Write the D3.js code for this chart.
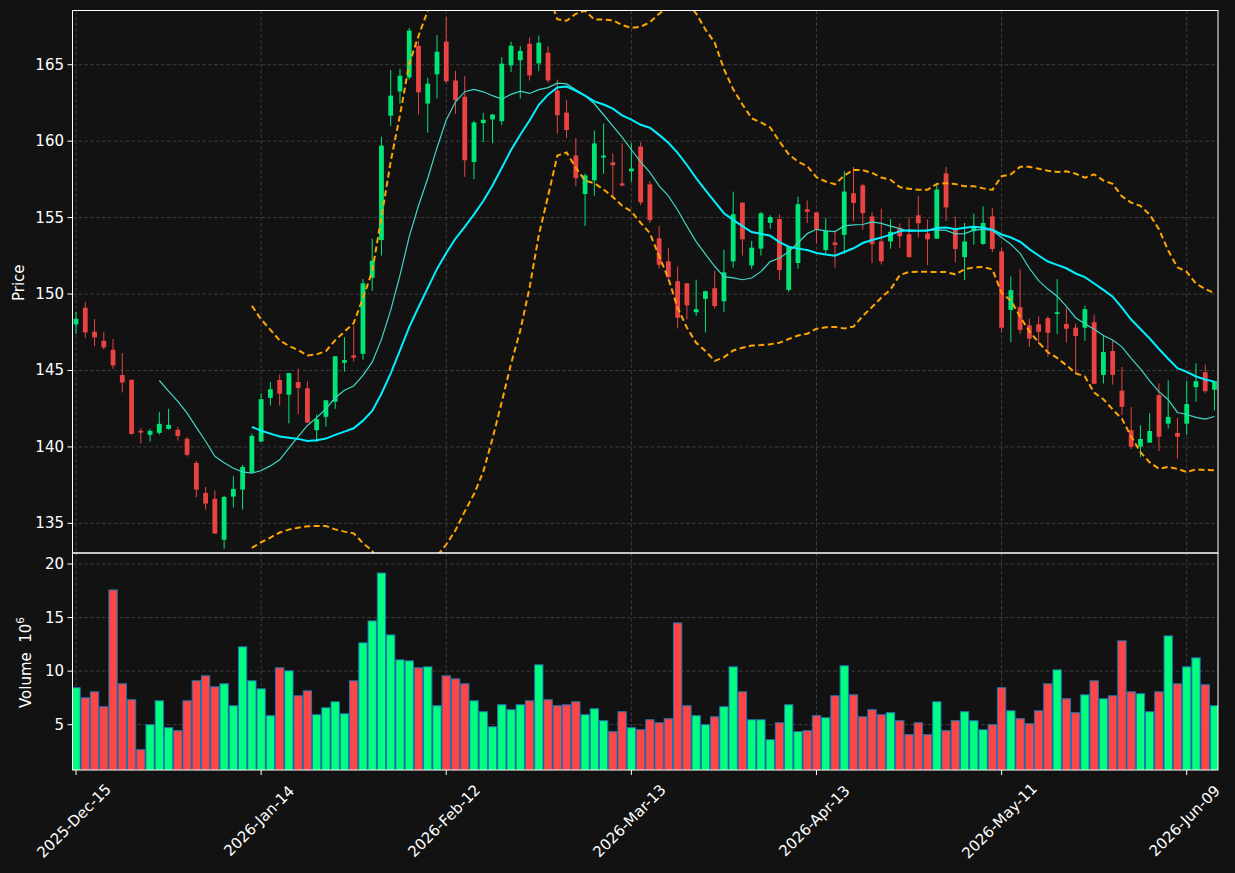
<!DOCTYPE html>
<html><head><meta charset="utf-8">
<script src="https://cdn.jsdelivr.net/npm/d3@7/dist/d3.min.js"></script>
<style>html,body{margin:0;padding:0;background:#121212;}svg{display:block;}</style>
</head><body><svg id="c" width="1235" height="873"></svg>
<script>
const openP = [148.01,149.10,147.53,146.94,146.35,144.70,144.39,141.05,140.79,140.92,141.18,141.12,140.53,138.95,136.99,136.60,133.93,136.75,137.21,138.34,
140.35,143.21,144.38,143.41,144.24,143.84,141.09,141.97,142.96,145.50,145.99,146.09,151.06,153.53,161.67,163.25,164.17,166.24,162.46,164.37,
166.51,163.97,162.91,158.64,161.18,161.42,161.31,164.96,165.29,166.37,165.09,165.79,163.31,161.87,159.06,156.54,157.44,158.93,158.61,157.24,
158.03,159.65,157.17,153.64,152.14,150.83,150.70,148.81,149.68,150.38,149.53,152.14,155.98,151.87,152.97,154.66,154.90,150.27,152.03,155.54,
155.34,152.88,153.37,153.87,156.59,157.11,155.08,153.44,153.44,154.32,153.91,155.15,153.96,153.62,157.89,154.21,152.41,154.11,153.28,155.08,
152.79,148.96,149.14,147.95,148.02,148.42,148.70,148.04,147.80,147.80,148.16,144.71,146.27,143.68,141.09,140.02,140.28,143.39,141.52,140.91,
141.52,143.91,144.89,143.74];
const highP = [148.82,149.48,148.36,147.51,147.05,146.14,144.39,141.22,141.18,142.29,142.49,141.31,140.63,139.08,137.38,137.16,136.79,138.08,138.82,140.87,
143.50,144.24,144.74,144.83,145.12,144.29,142.11,143.05,145.93,147.17,147.93,150.99,153.62,160.28,164.66,164.73,167.41,166.57,164.15,166.93,
168.13,164.60,164.26,161.33,161.85,161.78,165.49,166.51,166.21,166.78,166.91,166.21,164.03,162.68,160.21,157.87,160.70,161.15,159.20,159.85,
159.87,159.92,157.40,154.45,153.03,151.80,150.70,150.94,150.22,151.51,152.90,156.70,155.98,153.48,155.37,155.15,155.22,153.13,156.37,156.12,
155.34,154.97,154.11,158.05,158.32,157.22,155.37,155.58,154.92,154.61,155.01,156.43,154.88,157.24,158.32,155.06,154.65,155.26,155.73,155.64,
153.04,151.15,151.62,148.40,148.54,148.56,150.97,149.05,148.07,149.23,148.65,147.32,146.99,145.23,142.60,141.41,142.20,144.15,144.35,141.89,
144.30,145.48,145.39,144.30];
const lowP = [147.38,147.12,146.59,146.38,145.09,143.56,140.79,140.22,140.35,140.81,141.14,140.42,139.37,136.71,135.90,134.33,133.34,136.03,135.90,138.30,
140.35,142.71,142.71,141.54,142.15,141.59,140.31,141.32,142.49,144.92,145.59,145.70,150.20,152.52,161.00,162.46,164.03,161.74,160.55,162.80,
163.80,161.78,157.67,157.51,159.94,159.87,161.04,164.53,162.80,163.97,164.60,163.81,160.48,160.21,157.07,154.45,156.43,157.87,156.27,157.02,
157.35,155.82,154.65,151.66,150.94,147.75,148.34,148.56,147.48,149.06,148.83,151.73,152.52,151.64,152.52,154.27,150.94,150.13,151.66,154.65,
153.31,152.66,151.73,152.63,154.77,154.20,152.02,151.93,152.97,153.01,152.41,153.69,151.89,153.62,154.77,152.07,150.92,153.22,153.22,152.74,
147.48,146.85,147.39,146.54,146.72,145.91,147.39,146.83,144.80,146.94,144.13,144.15,144.08,142.08,139.86,139.33,140.28,139.72,141.20,139.24,
140.80,142.96,143.54,142.39];
const closeP = [148.38,147.49,147.16,146.51,145.33,144.22,140.85,140.94,141.05,141.51,141.44,140.72,139.48,137.21,136.29,134.33,136.73,137.25,138.69,140.72,
143.12,143.77,143.48,144.83,143.86,141.59,141.81,143.05,145.93,145.68,145.84,150.70,152.18,159.71,162.98,164.28,167.23,163.20,163.76,165.85,
163.92,162.68,158.75,161.22,161.40,161.74,165.07,166.24,165.90,164.30,166.44,163.97,161.69,160.73,157.58,157.76,159.85,159.06,158.43,157.11,
158.21,156.00,154.83,151.91,151.10,148.45,149.26,149.01,150.18,149.21,151.42,155.22,153.58,153.03,155.28,155.04,151.57,153.13,155.88,155.38,
154.23,154.14,153.21,156.70,155.96,155.29,153.26,152.14,154.07,153.78,152.41,154.63,153.58,156.84,155.67,152.95,153.44,154.41,154.65,152.95,
147.80,150.25,147.66,147.08,147.53,147.46,148.81,147.73,147.26,149.01,144.13,146.20,144.71,142.62,140.01,140.52,141.04,140.67,141.96,140.67,
142.80,144.30,143.65,144.30];
const volumeM = [8.45,7.51,8.07,6.68,17.58,8.82,7.33,2.67,5.00,7.23,4.72,4.44,7.23,9.10,9.56,8.54,8.82,6.77,12.27,9.10,
8.35,5.84,10.31,10.03,7.70,8.16,5.93,6.58,7.14,6.02,9.10,12.64,14.69,19.16,13.38,11.05,10.96,10.31,10.40,6.77,
9.56,9.28,8.82,7.23,6.21,4.81,6.86,6.40,6.86,7.23,10.59,7.33,6.77,6.86,7.14,5.93,6.49,5.37,4.35,6.21,
4.72,4.53,5.46,5.18,5.56,14.50,6.77,5.84,5.00,5.74,6.68,10.40,8.07,5.46,5.46,3.60,5.18,6.86,4.35,4.44,
5.84,5.65,7.70,10.50,7.79,5.74,6.40,5.93,6.12,5.37,4.07,5.18,4.07,7.14,4.44,5.37,6.21,5.37,4.53,5.00,
8.45,6.30,5.56,5.09,6.30,8.82,10.12,7.42,6.12,7.79,9.10,7.42,7.70,12.83,8.07,7.89,6.21,8.07,13.29,8.82,
10.40,11.24,8.73,6.77];
const tickIdx = [0,20,40,60,80,100,120];
const tickLabels = ["2025-Dec-15","2026-Jan-14","2026-Feb-12","2026-Mar-13","2026-Apr-13","2026-May-11","2026-Jun-09"];
const priceTicks = [135,140,145,150,155,160,165];
const volTicks = [5,10,15,20];
const maShort = 10, maLong = 20, bbPeriod = 20, bbK = 2;

const svg = d3.select("#c");
const BG = "#121212";
svg.append("rect").attr("width",1235).attr("height",873).attr("fill",BG);
const L=72.5, R=1218, T=10.5, MID=553, B=770;
const n = closeP.length;
const x = d3.scaleLinear().domain([-0.38, 123.38]).range([L, R]);
const yP = d3.scaleLinear().domain([133.06, 168.58]).range([MID, T-0.5]);
const yV = d3.scaleLinear().domain([0.77, 21.03]).range([B, MID]);
const step = x(1)-x(0);

const defs = svg.append("defs");
defs.append("clipPath").attr("id","cp").append("rect").attr("x",L).attr("y",T).attr("width",R-L).attr("height",MID-T);
defs.append("clipPath").attr("id","cv").append("rect").attr("x",L).attr("y",MID).attr("width",R-L).attr("height",B-MID);

const gridCol = "#3d3d3d", gridDash = "3.7,2.2";
const grid = svg.append("g");
priceTicks.forEach(t=>grid.append("line").attr("x1",L).attr("x2",R).attr("y1",yP(t)).attr("y2",yP(t)).attr("stroke",gridCol).attr("stroke-dasharray",gridDash).attr("stroke-width",1));
volTicks.forEach(t=>grid.append("line").attr("x1",L).attr("x2",R).attr("y1",yV(t)).attr("y2",yV(t)).attr("stroke",gridCol).attr("stroke-dasharray",gridDash).attr("stroke-width",1));
tickIdx.forEach(t=>{
  grid.append("line").attr("x1",x(t)).attr("x2",x(t)).attr("y1",T).attr("y2",MID).attr("stroke",gridCol).attr("stroke-dasharray",gridDash);
  grid.append("line").attr("x1",x(t)).attr("x2",x(t)).attr("y1",MID).attr("y2",B).attr("stroke",gridCol).attr("stroke-dasharray",gridDash);
});

// indicators
function sma(arr, p){ return arr.map((v,i)=> i<p-1 ? null : d3.mean(arr.slice(i-p+1,i+1))); }
function bb(arr, p, k, sign){ return arr.map((v,i)=>{ if(i<p-1) return null; const s=arr.slice(i-p+1,i+1); const m=d3.mean(s); const sd=Math.sqrt(d3.mean(s.map(q=>(q-m)*(q-m)))); return m+sign*k*sd; }); }
const ma10 = sma(closeP, maShort), ma20 = sma(closeP, maLong);
const bbU = bb(closeP, bbPeriod, bbK, 1), bbL = bb(closeP, bbPeriod, bbK, -1);

const pg = svg.append("g").attr("clip-path","url(#cp)");
const line = d3.line().defined(d=>d!=null).x((d,i)=>x(i)).y(d=>yP(d));
const upC = "#00e676", dnC = "#ea4343";
// candles
const cg = pg.append("g");
for(let i=0;i<n;i++){
  const up = closeP[i]>=openP[i];
  const col = up?upC:dnC;
  cg.append("line").attr("x1",x(i)).attr("x2",x(i)).attr("y1",yP(highP[i])).attr("y2",yP(lowP[i])).attr("stroke",col).attr("stroke-width",1);
  const top = yP(Math.max(openP[i],closeP[i])), bot = yP(Math.min(openP[i],closeP[i]));
  cg.append("rect").attr("x",x(i)-2.4).attr("width",4.8).attr("y",top).attr("height",Math.max(bot-top,0.8)).attr("fill",col);
}
pg.append("path").attr("d",line(ma10)).attr("fill","none").attr("stroke","#3fd6c6").attr("stroke-width",1.2);
pg.append("path").attr("d",line(ma20)).attr("fill","none").attr("stroke","#00f0ff").attr("stroke-width",2);
[bbU,bbL].forEach(b=>pg.append("path").attr("d",line(b)).attr("fill","none").attr("stroke","#ffa500").attr("stroke-width",2).attr("stroke-dasharray","6,3.5"));

// volume
const vg = svg.append("g").attr("clip-path","url(#cv)");
for(let i=0;i<n;i++){
  const up = closeP[i]>=openP[i];
  vg.append("rect").attr("x",x(i)-step*0.45).attr("width",step*0.9).attr("y",yV(volumeM[i])).attr("height",yV(0)-yV(volumeM[i]))
    .attr("fill",up?"#00ff80":"#ff4545").attr("stroke","#1f77b4").attr("stroke-width",1);
}

// frames
const fr = svg.append("g").attr("fill","none").attr("stroke","#ffffff").attr("stroke-width",1);
fr.append("rect").attr("x",L).attr("y",T).attr("width",R-L).attr("height",MID-T);
fr.append("rect").attr("x",L).attr("y",MID).attr("width",R-L).attr("height",B-MID);

// axes
const txtCol = "#ffffff", fnt = "DejaVu Sans, sans-serif";
const ax = svg.append("g").attr("font-family",fnt).attr("font-size",15).attr("fill",txtCol);
priceTicks.forEach(t=>{
  ax.append("line").attr("x1",L-5).attr("x2",L).attr("y1",yP(t)).attr("y2",yP(t)).attr("stroke","#fff");
  ax.append("text").attr("x",L-8.5).attr("y",yP(t)).attr("text-anchor","end").attr("dominant-baseline","central").text(t);
});
volTicks.forEach(t=>{
  ax.append("line").attr("x1",L-5).attr("x2",L).attr("y1",yV(t)).attr("y2",yV(t)).attr("stroke","#fff");
  ax.append("text").attr("x",L-8.5).attr("y",yV(t)).attr("text-anchor","end").attr("dominant-baseline","central").text(t);
});
tickIdx.forEach((t,k)=>{
  ax.append("line").attr("x1",x(t)).attr("x2",x(t)).attr("y1",B).attr("y2",B+5).attr("stroke","#fff");
  const cx = x(t)-2, cy = 821;
  ax.append("text").attr("transform",`translate(${cx},${cy}) rotate(-45)`).attr("text-anchor","middle").attr("dominant-baseline","central").text(tickLabels[k]);
});
ax.append("text").attr("transform",`translate(19,${(T+MID)/2+1}) rotate(-90)`).attr("text-anchor","middle").attr("dominant-baseline","central").text("Price");
const vl = ax.append("text").attr("transform",`translate(26,${(MID+B)/2+1}) rotate(-90)`).attr("text-anchor","middle").attr("dominant-baseline","central");
vl.append("tspan").text("Volume\u00a0 10");
vl.append("tspan").attr("font-size",10.5).attr("dy",-6).text("6");
</script></body></html>
